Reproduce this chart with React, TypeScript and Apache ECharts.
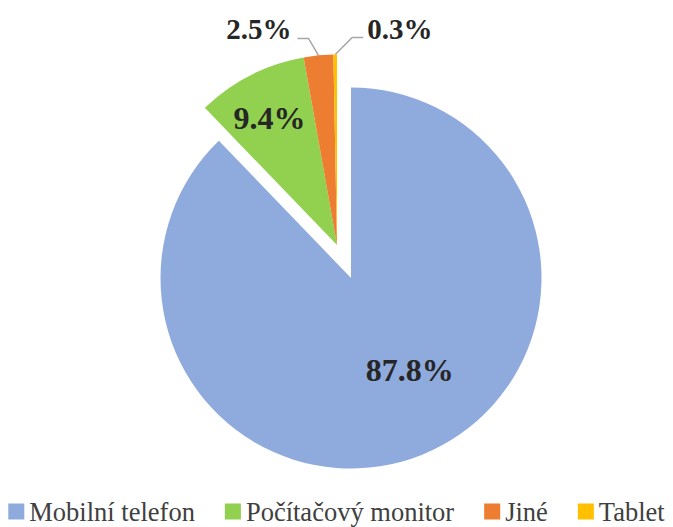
import React, { useEffect, useRef } from "react";
import * as echarts from "echarts";

const categories = ["Mobilní telefon", "Počítačový monitor", "Jiné", "Tablet"];
const shares = [87.8, 9.4, 2.5, 0.3];
const colors = ["#8FAADC", "#92D050", "#ED7D31", "#FFC000"];
// which slices belong to the main pie (0) and the exploded group (1)
const groupOf = [0, 1, 1, 1];
const outsideLabel = [false, false, true, true];

const FONT = "Liberation Serif";

function buildData(group: number) {
  return categories.map((name, i) => {
    const visible = groupOf[i] === group;
    const outside = outsideLabel[i];
    return {
      name,
      value: shares[i],
      itemStyle: { color: visible ? colors[i] : "rgba(0,0,0,0)" },
      label: {
        show: visible,
        position: outside ? "outside" : "inside",
        fontSize: outside ? 29 : 32,
      },
      labelLine: {
        show: visible && outside,
        length: 17,
        length2: 11,
        lineStyle: { color: "#A6A6A6", width: 1.5 },
      },
    };
  });
}

function labelLayout(params: any) {
  const i = params.dataIndex;
  if (i === 0) return { dx: 22, dy: 1 };
  if (i === 1) return { dx: -23, dy: -39 };
  const pts = params.labelLinePoints;
  if (!pts) return {};
  const p0 = pts[0];
  if (i === 2) {
    const p1 = [p0[0] - 10, p0[1] - 17];
    const p2 = [p1[0] - 11, p1[1]];
    return {
      x: p2[0] - 6,
      y: p2[1] - 9,
      align: "right",
      verticalAlign: "middle",
      labelLinePoints: [p0, p1, p2],
    };
  }
  const p1 = [p0[0] + 17, p0[1] - 17];
  const p2 = [p1[0] + 11, p1[1]];
  return {
    x: p2[0] + 4,
    y: p2[1] - 9,
    align: "left",
    verticalAlign: "middle",
    labelLinePoints: [p0, p1, p2],
  };
}

export default function App() {
  const ref = useRef<HTMLDivElement>(null);
  useEffect(() => {
    document.body.style.margin = "0";
    const chart = echarts.init(ref.current!, undefined, { renderer: "svg" });
    const common = {
      type: "pie",
      radius: 190.5,
      startAngle: 90,
      clockwise: true,
      avoidLabelOverlap: false,
      selectedMode: false,
      silent: true,
      label: {
        fontFamily: FONT,
        fontWeight: "bold",
        color: "#262626",
        formatter: (p: any) => p.value.toFixed(1) + "%",
      },
      labelLayout,
    };
    chart.setOption({
      animation: false,
      textStyle: { fontFamily: FONT },
      legend: {
        bottom: 0,
        left: "center",
        padding: [0, 0, 2, 0],
        itemWidth: 16,
        itemHeight: 16,
        itemGap: 30,
        icon: "rect",
        textStyle: { fontFamily: FONT, fontSize: 26.5, color: "#404040" },
        data: categories.map((name, i) => ({ name, itemStyle: { color: colors[i] } })),
      },
      series: [
        { ...common, name: "main", center: [351, 278], data: buildData(0) },
        { ...common, name: "exploded", center: [337, 245], data: buildData(1) },
      ],
    });
    return () => chart.dispose();
  }, []);
  return <div ref={ref} style={{ width: 673, height: 527 }} />;
}
